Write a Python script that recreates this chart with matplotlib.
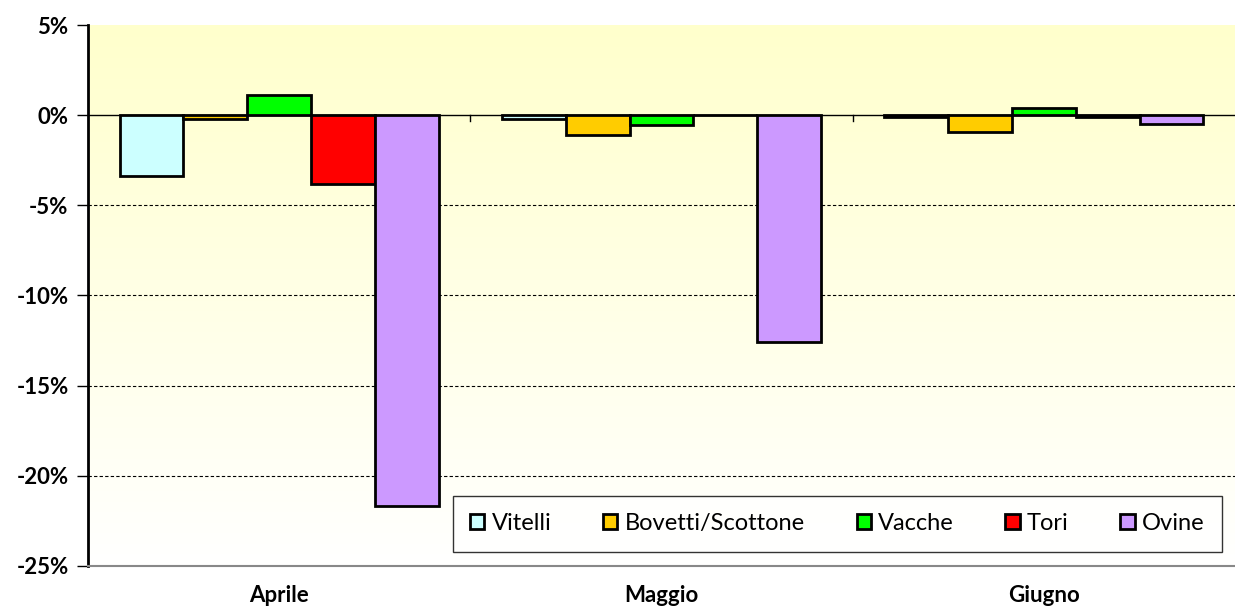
import numpy as np
import matplotlib.pyplot as plt
from matplotlib.colors import LinearSegmentedColormap

mesi = ["Aprile", "Maggio", "Giugno"]
serie = ["Vitelli", "Bovetti/Scottone", "Vacche", "Tori", "Ovine"]
colori = ["#CCFFFF", "#FFCC00", "#00FF00", "#FF0000", "#CC99FF"]

vitelli = [-3.4, -0.2, -0.1]
bovetti = [-0.2, -1.1, -0.95]
vacche = [1.1, -0.55, 0.4]
tori = [-3.8, 0.0, -0.1]
ovine = [-21.7, -12.6, -0.5]
valori = [vitelli, bovetti, vacche, tori, ovine]

plt.rcParams['font.family'] = ['Lato', 'DejaVu Sans']

fig = plt.figure(figsize=(12.35, 6.1), dpi=100)
ax = fig.add_axes([88/1235, 44/610, 1147/1235, 541/610])

# sfondo sfumato giallo -> bianco
cmap = LinearSegmentedColormap.from_list("sf", ["#FFFFFF", "#FFFFCC"])
grad = np.linspace(0, 1, 256).reshape(-1, 1)
ax.imshow(grad, cmap=cmap, aspect="auto", origin="lower",
          extent=[-0.5, 2.5, -25, 5], zorder=0)

x = np.arange(len(mesi))
w = 0.167
for i, (nome, vals) in enumerate(zip(serie, valori)):
    ax.bar(x + (i - 2) * w, vals, width=w, color=colori[i], edgecolor="black",
           linewidth=2, label=nome, zorder=3)

ax.set_xlim(-0.5, 2.5)
ax.set_ylim(-25, 5)
ax.set_yticks(np.arange(-25, 6, 5))
ax.set_yticklabels([f"{v}%" for v in range(-25, 6, 5)], fontsize=16, fontweight="bold")
for g in [-5, -10, -15, -20]:
    ax.axhline(g, color="black", linestyle=(0, (3, 2)), linewidth=0.8, zorder=1)
ax.axhline(0, color="black", linewidth=1, zorder=2)
for b in [0.5, 1.5]:
    ax.plot([b, b], [0, -0.35], color="black", linewidth=1, zorder=2)

ax.set_xticks(x)
ax.set_xticklabels(mesi, fontsize=16, fontweight="bold")
ax.tick_params(axis="x", length=0, pad=14)
ax.tick_params(axis="y", length=8, width=1, direction="out", pad=6)

for s in ["top", "right"]:
    ax.spines[s].set_visible(False)
ax.spines["left"].set_linewidth(2)
ax.spines["bottom"].set_color("#888888")
ax.spines["bottom"].set_linewidth(1.5)

leg = ax.legend(loc="lower right", bbox_to_anchor=(1134/1147, 0.026), ncol=5,
                fontsize=17, frameon=True, fancybox=False, edgecolor="black",
                handlelength=0.6, handleheight=0.6, handletextpad=0.3,
                columnspacing=2.2, borderpad=0.75, borderaxespad=0)
leg.get_frame().set_linewidth(1)
leg.get_frame().set_facecolor("white")
leg.set_zorder(5)

fig.savefig("out.png", dpi=100)
